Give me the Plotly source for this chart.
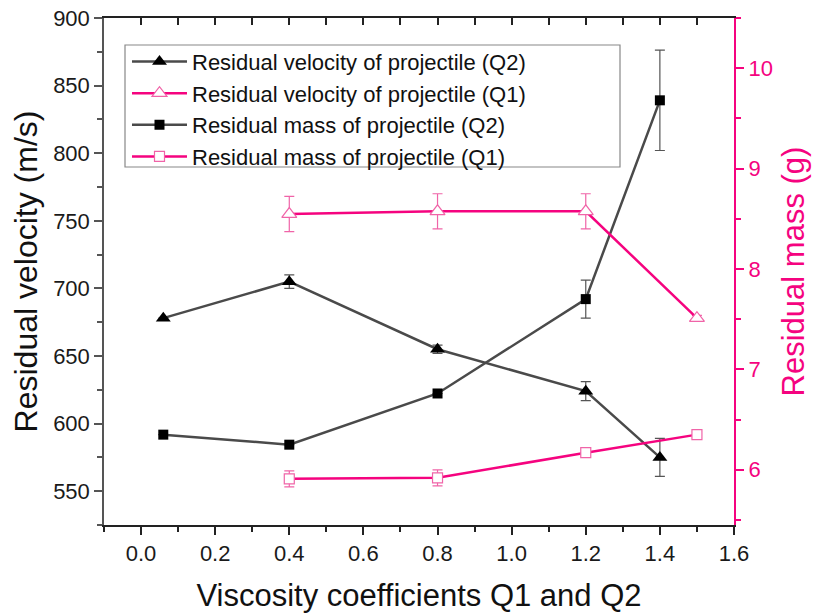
import plotly.graph_objects as go

# ---- data ----
x_q2 = [0.06, 0.4, 0.8, 1.2, 1.4]
vel_q2 = [678, 705, 655, 624, 575]
vel_q2_err = [0, 5, 3, 7, 14]
mass_q2 = [6.35, 6.25, 6.76, 7.70, 9.68]
mass_q2_err = [0, 0, 0, 0.19, 0.5]

x_q1 = [0.4, 0.8, 1.2, 1.5]
vel_q1 = [755, 757, 757, 678]
vel_q1_err = [13, 13, 13, 2]
mass_q1 = [5.91, 5.92, 6.17, 6.35]
mass_q1_err = [0.08, 0.08, 0.0, 0.03]

x_range = [-0.1, 1.6]

PINK = "#f5037f"
PINK_L = "#f064a8"
GRAY = "#4a4a4a"
FONT = "Liberation Sans, Arial, sans-serif"

fig = go.Figure()

fig.add_trace(go.Scatter(
    x=x_q2, y=vel_q2, mode="lines+markers", name="Residual velocity of projectile (Q2)",
    line=dict(color=GRAY, width=2.5),
    marker=dict(symbol="triangle-up", size=13, color="black", line=dict(color="black", width=0)),
    error_y=dict(type="data", array=vel_q2_err, color="#555555", thickness=1.2, width=5),
    yaxis="y"))

fig.add_trace(go.Scatter(
    x=x_q1, y=vel_q1, mode="lines+markers", name="Residual velocity of projectile (Q1)",
    line=dict(color=PINK, width=2.5),
    marker=dict(symbol="triangle-up", size=13, color="white", line=dict(color=PINK_L, width=1.2)),
    error_y=dict(type="data", array=vel_q1_err, color=PINK_L, thickness=1.2, width=5),
    xaxis="x3", yaxis="y"))

fig.add_trace(go.Scatter(
    x=x_q2, y=mass_q2, mode="lines+markers", name="Residual mass of projectile (Q2)",
    line=dict(color=GRAY, width=2.5),
    marker=dict(symbol="square", size=10, color="black", line=dict(color="black", width=0)),
    error_y=dict(type="data", array=mass_q2_err, color="#555555", thickness=1.2, width=5),
    yaxis="y2"))

fig.add_trace(go.Scatter(
    x=x_q1, y=mass_q1, mode="lines+markers", name="Residual mass of projectile (Q1)",
    line=dict(color=PINK, width=2.5),
    marker=dict(symbol="square", size=10, color="white", line=dict(color=PINK_L, width=1.2)),
    error_y=dict(type="data", array=mass_q1_err, color=PINK_L, thickness=1.2, width=5),
    yaxis="y2"))

fig.update_layout(
    width=817, height=615,
    margin=dict(l=104, r=83, t=18, b=90),
    paper_bgcolor="white", plot_bgcolor="white",
    font=dict(family=FONT, color="#1a1a1a"),
    showlegend=True,
    legend=dict(x=0.0365, y=0.955, xanchor="left", yanchor="top",
                bgcolor="rgba(0,0,0,0)", borderwidth=0,
                font=dict(size=22, family=FONT, color="#111111"),
                tracegroupgap=0, itemwidth=55, traceorder="normal"),
    xaxis=dict(range=x_range, dtick=0.2, tick0=0, tickformat=".1f", automargin=False,
               showline=True, linecolor="#222222", linewidth=1.5, mirror=True,
               ticks="outside", ticklen=8, tickwidth=1.5, tickcolor="#222222",
               minor=dict(ticks="outside", dtick=0.1, ticklen=5, tickwidth=1.5, tickcolor="#222222"),
               showgrid=False, zeroline=False,
               tickfont=dict(size=22, color="#1a1a1a"),
               title=dict(text="Viscosity coefficients Q1 and Q2", font=dict(size=31, color="#111111"), standoff=19)),
    xaxis3=dict(range=x_range, overlaying="x", side="top", anchor="y", automargin=False,
                dtick=0.1, tick0=0, ticks="inside", ticklen=7, tickwidth=1.5, tickcolor="#222222",
                showticklabels=False, showgrid=False, zeroline=False, showline=False),
    yaxis=dict(range=[525, 900], dtick=50, tick0=0, automargin=False,
               showline=True, linecolor="#555555", linewidth=1.5,
               ticks="outside", ticklen=8, tickwidth=1.5, tickcolor="#555555",
               minor=dict(ticks="outside", dtick=25, ticklen=5, tickwidth=1.5, tickcolor="#555555"),
               showgrid=False, zeroline=False,
               tickfont=dict(size=22, color="#1a1a1a"),
               title=dict(text="Residual velocity (m/s)", font=dict(size=32, color="#111111"), standoff=6)),
    yaxis2=dict(range=[5.45, 10.5], dtick=1, tick0=0, overlaying="y", side="right", automargin=False,
                showline=True, linecolor=PINK, linewidth=2,
                ticks="outside", ticklen=8, tickwidth=1.5, tickcolor=PINK,
                minor=dict(ticks="outside", dtick=0.5, ticklen=5, tickwidth=1.5, tickcolor=PINK),
                showgrid=False, zeroline=False,
                tickfont=dict(size=22, color=PINK),
                title=dict(text="Residual mass (g)", font=dict(size=31, color=PINK), standoff=10)),
    shapes=[dict(type="rect", xref="paper", yref="paper",
                 x0=(125 - 104) / 630, x1=(620 - 104) / 630,
                 y0=(525 - 167) / 507, y1=(525 - 45) / 507,
                 line=dict(color="#888888", width=1.2), fillcolor="rgba(0,0,0,0)")],
)

fig.write_html("out.html")
